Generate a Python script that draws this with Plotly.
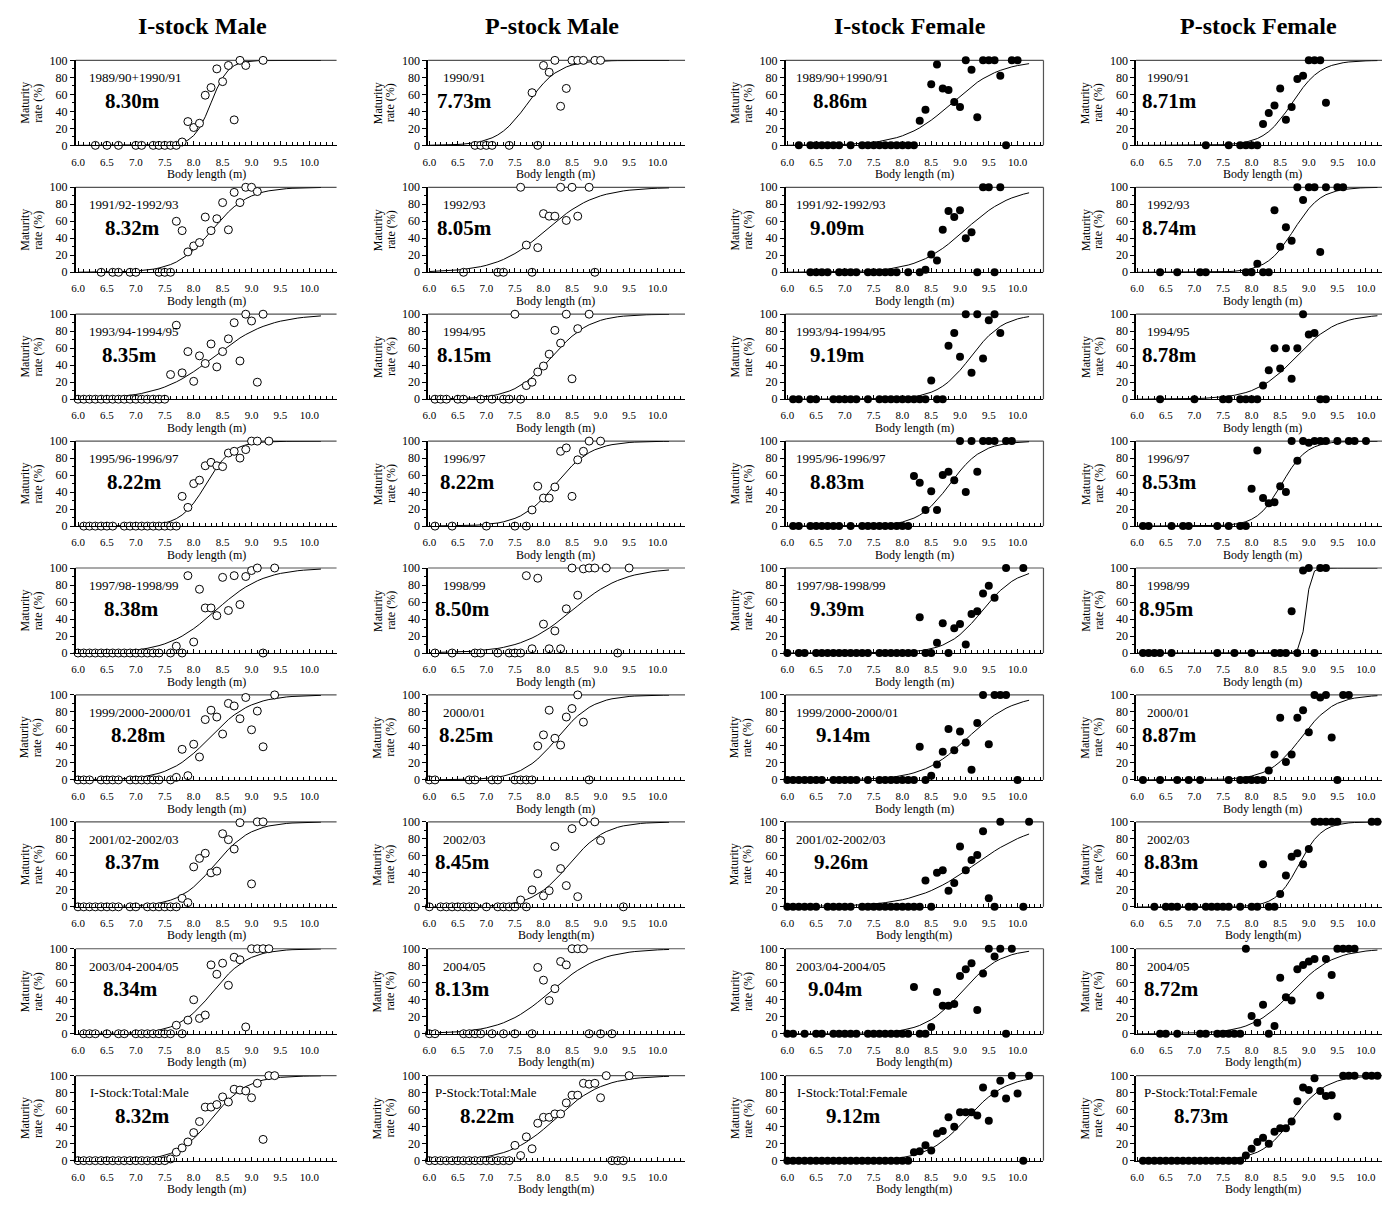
import numpy as np
import plotly.graph_objects as go

W, H = 1382, 1206
FONT = "Liberation Serif, Times New Roman, serif"

COLUMN_TITLES = ["I-stock Male", "P-stock Male", "I-stock Female", "P-stock Female"]

# ---------------- I-stock Male ----------------
IM_LABELS = ["1989/90+1990/91", "1991/92-1992/93", "1993/94-1994/95", "1995/96-1996/97",
             "1997/98-1998/99", "1999/2000-2000/01", "2001/02-2002/03", "2003/04-2004/05",
             "I-Stock:Total:Male"]
IM_L50 = [8.30, 8.32, 8.35, 8.22, 8.38, 8.28, 8.37, 8.34, 8.32]
IM_SLOPE = [6.8, 3.2, 2.1, 4.5, 2.4, 2.8, 3.2, 3.3, 3.3]
IM_X = [
    [6.3, 6.5, 6.7, 7.0, 7.1, 7.3, 7.4, 7.5, 7.6, 7.7, 7.8, 7.9, 8.0, 8.1, 8.2, 8.3, 8.4, 8.5, 8.6, 8.7, 8.8, 8.9, 9.2],
    [6.4, 6.6, 6.7, 6.9, 7.0, 7.4, 7.5, 7.6, 7.7, 7.8, 7.9, 8.0, 8.1, 8.2, 8.3, 8.4, 8.5, 8.6, 8.7, 8.8, 8.9, 9.0, 9.1],
    [6.0, 6.1, 6.2, 6.3, 6.4, 6.5, 6.6, 6.7, 6.8, 6.9, 7.0, 7.1, 7.2, 7.3, 7.4, 7.5, 7.6, 7.7, 7.8, 7.9, 8.0, 8.1, 8.2,
     8.3, 8.4, 8.5, 8.6, 8.7, 8.8, 8.9, 9.0, 9.1, 9.2],
    [6.1, 6.2, 6.3, 6.4, 6.5, 6.6, 6.8, 6.9, 7.0, 7.1, 7.2, 7.3, 7.4, 7.5, 7.6, 7.7, 7.8, 7.9, 8.0, 8.1, 8.2, 8.3, 8.4,
     8.5, 8.6, 8.7, 8.8, 8.9, 9.0, 9.1, 9.3],
    [6.0, 6.1, 6.2, 6.3, 6.4, 6.5, 6.6, 6.7, 6.8, 6.9, 7.0, 7.1, 7.2, 7.3, 7.4, 7.6, 7.7, 7.8, 7.9, 8.0, 8.1, 8.2, 8.3,
     8.4, 8.5, 8.6, 8.7, 8.8, 8.9, 9.0, 9.1, 9.2, 9.4],
    [6.0, 6.1, 6.2, 6.4, 6.5, 6.6, 6.7, 6.9, 7.0, 7.1, 7.2, 7.3, 7.4, 7.6, 7.7, 7.8, 7.9, 8.0, 8.1, 8.2, 8.3, 8.4, 8.5,
     8.6, 8.7, 8.8, 8.9, 9.0, 9.1, 9.2, 9.4],
    [6.0, 6.1, 6.2, 6.3, 6.4, 6.5, 6.6, 6.7, 6.9, 7.0, 7.2, 7.3, 7.4, 7.5, 7.6, 7.7, 7.8, 7.9, 8.0, 8.1, 8.2, 8.3, 8.4,
     8.5, 8.6, 8.7, 8.8, 9.0, 9.1, 9.2],
    [6.1, 6.2, 6.3, 6.5, 6.7, 6.8, 7.0, 7.1, 7.2, 7.3, 7.4, 7.5, 7.6, 7.7, 7.8, 7.9, 8.0, 8.1, 8.2, 8.3, 8.4, 8.5, 8.6,
     8.7, 8.8, 8.9, 9.0, 9.1, 9.2, 9.3],
    [6.0, 6.1, 6.2, 6.3, 6.4, 6.5, 6.6, 6.7, 6.8, 6.9, 7.0, 7.1, 7.2, 7.3, 7.4, 7.5, 7.6, 7.7, 7.8, 7.9, 8.0, 8.1, 8.2,
     8.3, 8.4, 8.5, 8.6, 8.7, 8.8, 8.9, 9.0, 9.1, 9.2, 9.3, 9.4],
]
IM_Y = [
    [0, 0, 0, 0, 0, 0, 0, 0, 0, 0, 4, 28, 21, 26, 59, 68, 90, 75, 94, 30, 100, 94, 100],
    [0, 0, 0, 0, 0, 0, 0, 0, 60, 49, 24, 31, 35, 65, 49, 63, 82, 50, 94, 82, 100, 100, 95],
    [0, 0, 0, 0, 0, 0, 0, 0, 0, 0, 0, 0, 0, 0, 0, 0, 29, 87, 31, 56, 21, 51, 42, 65, 38, 56, 71, 90, 45, 100, 92, 20, 100],
    [0, 0, 0, 0, 0, 0, 0, 0, 0, 0, 0, 0, 0, 0, 0, 0, 35, 22, 50, 54, 71, 75, 71, 70, 86, 88, 80, 90, 100, 100, 100],
    [0, 0, 0, 0, 0, 0, 0, 0, 0, 0, 0, 0, 0, 0, 0, 0, 8, 0, 91, 13, 75, 53, 53, 44, 89, 50, 91, 57, 90, 97, 100, 0, 100],
    [0, 0, 0, 0, 0, 0, 0, 0, 0, 0, 0, 0, 0, 0, 3, 36, 5, 42, 27, 71, 82, 74, 54, 90, 87, 72, 97, 59, 81, 39, 100],
    [0, 0, 0, 0, 0, 0, 0, 0, 0, 0, 0, 0, 0, 0, 0, 0, 10, 5, 47, 57, 63, 40, 42, 86, 79, 68, 99, 27, 100, 100],
    [0, 0, 0, 0, 0, 0, 0, 0, 0, 0, 0, 0, 0, 10, 0, 16, 40, 18, 22, 81, 70, 83, 57, 90, 87, 8, 100, 100, 100, 100],
    [0, 0, 0, 0, 0, 0, 0, 0, 0, 0, 0, 0, 0, 0, 0, 0, 2, 10, 15, 22, 33, 46, 63, 63, 66, 75, 69, 84, 83, 82, 74, 91, 25,
     100, 100],
]

# ---------------- P-stock Male ----------------
PM_LABELS = ["1990/91", "1992/93", "1994/95", "1996/97", "1998/99", "2000/01", "2002/03", "2004/05",
             "P-Stock:Total:Male"]
PM_L50 = [7.73, 8.05, 8.15, 8.22, 8.50, 8.25, 8.45, 8.13, 8.22]
PM_SLOPE = [3.7, 2.3, 3.0, 3.2, 2.2, 3.2, 3.15, 2.3, 2.45]
PM_X = [
    [6.8, 6.9, 7.0, 7.1, 7.4, 7.8, 7.9, 8.0, 8.1, 8.2, 8.3, 8.4, 8.5, 8.6, 8.7, 8.9, 9.0],
    [6.6, 7.2, 7.3, 7.6, 7.7, 7.8, 7.9, 8.0, 8.1, 8.2, 8.3, 8.4, 8.5, 8.6, 8.8, 8.9],
    [6.1, 6.2, 6.3, 6.5, 6.6, 6.9, 7.1, 7.3, 7.4, 7.5, 7.6, 7.7, 7.8, 7.9, 8.0, 8.1, 8.2, 8.3, 8.4, 8.5, 8.6, 8.8],
    [6.1, 6.4, 7.0, 7.5, 7.7, 7.8, 7.9, 8.0, 8.1, 8.2, 8.3, 8.4, 8.5, 8.6, 8.7, 8.8, 9.0],
    [6.1, 6.4, 6.8, 6.9, 7.2, 7.4, 7.5, 7.6, 7.7, 7.8, 7.9, 8.0, 8.1, 8.2, 8.3, 8.4, 8.5, 8.6, 8.7, 8.8, 8.9, 9.1,
     9.3, 9.5],
    [6.0, 6.1, 6.7, 6.8, 7.1, 7.2, 7.5, 7.6, 7.7, 7.8, 7.9, 8.0, 8.1, 8.2, 8.3, 8.4, 8.5, 8.6, 8.7, 8.8],
    [6.0, 6.2, 6.3, 6.4, 6.5, 6.6, 6.7, 6.8, 7.0, 7.2, 7.3, 7.4, 7.5, 7.6, 7.7, 7.8, 7.9, 8.0, 8.1, 8.2, 8.3, 8.4,
     8.5, 8.6, 8.7, 8.9, 9.0, 9.4],
    [6.0, 6.1, 6.6, 6.7, 6.8, 6.9, 7.1, 7.3, 7.5, 7.8, 7.9, 8.0, 8.1, 8.2, 8.3, 8.4, 8.5, 8.6, 8.7, 8.8, 9.0, 9.2],
    [6.0, 6.1, 6.2, 6.3, 6.4, 6.5, 6.6, 6.7, 6.8, 6.9, 7.0, 7.1, 7.2, 7.3, 7.4, 7.5, 7.6, 7.7, 7.8, 7.9, 8.0, 8.1,
     8.2, 8.3, 8.4, 8.5, 8.6, 8.7, 8.8, 8.9, 9.0, 9.1, 9.2, 9.3, 9.4, 9.5],
]
PM_Y = [
    [0, 0, 0, 0, 0, 62, 0, 94, 86, 100, 46, 67, 100, 100, 100, 100, 100],
    [0, 0, 0, 100, 32, 0, 29, 69, 66, 66, 100, 61, 100, 66, 100, 0],
    [0, 0, 0, 0, 0, 0, 0, 0, 0, 100, 0, 16, 20, 32, 39, 53, 81, 66, 100, 24, 83, 100],
    [0, 0, 0, 0, 0, 19, 47, 33, 33, 46, 88, 92, 35, 78, 88, 100, 100],
    [0, 0, 0, 0, 0, 0, 0, 0, 91, 5, 88, 34, 5, 26, 5, 52, 100, 68, 99, 100, 100, 100, 0, 100],
    [0, 0, 0, 0, 0, 0, 0, 0, 0, 0, 40, 53, 82, 49, 41, 74, 84, 100, 68, 0],
    [0, 0, 0, 0, 0, 0, 0, 0, 0, 0, 0, 0, 0, 8, 0, 20, 39, 13, 19, 71, 45, 25, 92, 12, 100, 100, 78, 0],
    [0, 0, 0, 0, 0, 0, 0, 0, 0, 0, 78, 63, 39, 53, 85, 81, 100, 100, 100, 0, 0, 0],
    [0, 0, 0, 0, 0, 0, 0, 0, 0, 0, 0, 0, 0, 0, 0, 18, 6, 28, 14, 44, 51, 51, 55, 55, 68, 77, 77, 91, 90, 91, 74,
     100, 0, 0, 0, 100],
]

# ---------------- I-stock Female ----------------
IF_LABELS = ["1989/90+1990/91", "1991/92-1992/93", "1993/94-1994/95", "1995/96-1996/97",
             "1997/98-1998/99", "1999/2000-2000/01", "2001/02-2002/03", "2003/04-2004/05",
             "I-Stock:Total:Female"]
IF_L50 = [8.86, 9.09, 9.19, 8.83, 9.39, 9.14, 9.26, 9.04, 9.12]
IF_SLOPE = [2.4, 2.4, 3.5, 3.6, 3.3, 2.55, 1.9, 3.0, 2.9]
IF_X = [
    [6.2, 6.4, 6.5, 6.6, 6.7, 6.8, 6.9, 7.1, 7.3, 7.4, 7.5, 7.6, 7.7, 7.8, 7.9, 8.0, 8.1, 8.2, 8.3, 8.4, 8.5, 8.6,
     8.7, 8.8, 8.9, 9.0, 9.1, 9.2, 9.3, 9.4, 9.5, 9.6, 9.7, 9.8, 9.9, 10.0],
    [6.4, 6.5, 6.6, 6.7, 6.9, 7.0, 7.1, 7.2, 7.4, 7.5, 7.6, 7.7, 7.8, 7.9, 8.1, 8.3, 8.4, 8.5, 8.6, 8.7, 8.8, 8.9,
     9.0, 9.1, 9.2, 9.3, 9.4, 9.5, 9.6, 9.7],
    [6.1, 6.2, 6.4, 6.5, 6.8, 6.9, 7.0, 7.1, 7.2, 7.4, 7.6, 7.7, 7.8, 7.9, 8.0, 8.1, 8.2, 8.3, 8.4, 8.5, 8.6, 8.7,
     8.8, 8.9, 9.0, 9.1, 9.2, 9.3, 9.4, 9.5, 9.6, 9.7],
    [6.1, 6.2, 6.4, 6.5, 6.6, 6.7, 6.8, 6.9, 7.1, 7.3, 7.4, 7.5, 7.6, 7.7, 7.8, 7.9, 8.0, 8.1, 8.2, 8.3, 8.4, 8.5,
     8.6, 8.7, 8.8, 8.9, 9.0, 9.1, 9.2, 9.3, 9.4, 9.5, 9.6, 9.8, 9.9],
    [6.0, 6.2, 6.3, 6.5, 6.6, 6.7, 6.8, 6.9, 7.0, 7.1, 7.2, 7.3, 7.4, 7.6, 7.7, 7.8, 7.9, 8.0, 8.1, 8.2, 8.3, 8.4,
     8.5, 8.6, 8.7, 8.8, 8.9, 9.0, 9.1, 9.2, 9.3, 9.4, 9.5, 9.6, 9.8, 10.1],
    [6.0, 6.1, 6.2, 6.3, 6.4, 6.5, 6.6, 6.8, 6.9, 7.0, 7.1, 7.2, 7.4, 7.6, 7.7, 7.8, 7.9, 8.0, 8.1, 8.2, 8.3, 8.4,
     8.5, 8.6, 8.7, 8.8, 8.9, 9.0, 9.1, 9.2, 9.3, 9.4, 9.5, 9.6, 9.7, 9.8, 10.0],
    [6.0, 6.1, 6.2, 6.3, 6.4, 6.5, 6.7, 6.8, 6.9, 7.0, 7.1, 7.3, 7.4, 7.5, 7.6, 7.7, 7.8, 7.9, 8.0, 8.1, 8.2, 8.3,
     8.4, 8.5, 8.6, 8.7, 8.8, 8.9, 9.0, 9.1, 9.2, 9.3, 9.4, 9.5, 9.6, 9.7, 10.1, 10.2],
    [6.0, 6.1, 6.3, 6.5, 6.6, 6.8, 6.9, 7.0, 7.1, 7.2, 7.4, 7.5, 7.6, 7.7, 7.8, 7.9, 8.0, 8.1, 8.2, 8.3, 8.4, 8.5,
     8.6, 8.7, 8.8, 8.9, 9.0, 9.1, 9.2, 9.3, 9.4, 9.5, 9.6, 9.7, 9.8, 9.9],
    [6.0, 6.1, 6.2, 6.3, 6.4, 6.5, 6.6, 6.7, 6.8, 6.9, 7.0, 7.1, 7.2, 7.3, 7.4, 7.5, 7.6, 7.7, 7.8, 7.9, 8.0, 8.1,
     8.2, 8.3, 8.4, 8.5, 8.6, 8.7, 8.8, 8.9, 9.0, 9.1, 9.2, 9.3, 9.4, 9.5, 9.6, 9.7, 9.8, 9.9, 10.0, 10.1, 10.2],
]
IF_Y = [
    [0, 0, 0, 0, 0, 0, 0, 0, 0, 0, 0, 0, 0, 0, 0, 0, 0, 0, 29, 42, 72, 95, 67, 65, 51, 45, 100, 89, 33, 100, 100,
     100, 82, 0, 100, 100],
    [0, 0, 0, 0, 0, 0, 0, 0, 0, 0, 0, 0, 0, 0, 0, 0, 3, 21, 14, 50, 72, 65, 73, 40, 47, 0, 100, 100, 0, 100],
    [0, 0, 0, 0, 0, 0, 0, 0, 0, 0, 0, 0, 0, 0, 0, 0, 0, 0, 0, 22, 0, 0, 63, 78, 50, 100, 31, 100, 48, 93, 100, 78],
    [0, 0, 0, 0, 0, 0, 0, 0, 0, 0, 0, 0, 0, 0, 0, 0, 0, 0, 59, 51, 19, 41, 19, 60, 64, 54, 100, 40, 100, 64, 100,
     100, 100, 100, 100],
    [0, 0, 0, 0, 0, 0, 0, 0, 0, 0, 0, 0, 0, 0, 0, 0, 0, 0, 0, 0, 42, 0, 0, 12, 35, 0, 29, 34, 10, 46, 49, 70, 79,
     65, 100, 100],
    [0, 0, 0, 0, 0, 0, 0, 0, 0, 0, 0, 0, 0, 0, 0, 0, 0, 0, 0, 0, 39, 0, 5, 18, 33, 60, 35, 57, 44, 12, 67, 100, 42,
     100, 100, 100, 0],
    [0, 0, 0, 0, 0, 0, 0, 0, 0, 0, 0, 0, 0, 0, 0, 0, 0, 0, 0, 0, 0, 0, 31, 0, 40, 43, 19, 28, 71, 43, 55, 61, 89,
     10, 0, 100, 0, 100],
    [0, 0, 0, 0, 0, 0, 0, 0, 0, 0, 0, 0, 0, 0, 0, 0, 0, 0, 55, 0, 0, 8, 49, 33, 33, 35, 68, 76, 83, 28, 71, 100, 91,
     100, 0, 100],
    [0, 0, 0, 0, 0, 0, 0, 0, 0, 0, 0, 0, 0, 0, 0, 0, 0, 0, 0, 0, 0, 0, 10, 11, 18, 12, 32, 35, 51, 40, 57, 57, 57,
     53, 86, 47, 79, 94, 73, 100, 79, 0, 100],
]

# ---------------- P-stock Female ----------------
PF_LABELS = ["1990/91", "1992/93", "1994/95", "1996/97", "1998/99", "2000/01", "2002/03", "2004/05",
             "P-Stock:Total:Female"]
PF_L50 = [8.71, 8.74, 8.78, 8.53, 8.95, 8.87, 8.83, 8.72, 8.73]
PF_SLOPE = [4.0, 4.2, 2.8, 4.6, 22.0, 3.5, 5.0, 2.8, 3.5]
PF_X = [
    [7.2, 7.6, 7.8, 7.9, 8.0, 8.1, 8.2, 8.3, 8.4, 8.5, 8.6, 8.7, 8.8, 8.9, 9.0, 9.1, 9.2, 9.3],
    [6.4, 6.7, 7.1, 7.2, 7.9, 8.0, 8.1, 8.2, 8.3, 8.4, 8.5, 8.6, 8.7, 8.8, 8.9, 9.0, 9.1, 9.2, 9.3, 9.5, 9.6],
    [6.4, 7.0, 7.5, 7.6, 7.8, 7.9, 8.0, 8.1, 8.2, 8.3, 8.4, 8.5, 8.6, 8.7, 8.8, 8.9, 9.0, 9.1, 9.2, 9.3],
    [6.1, 6.2, 6.6, 6.8, 6.9, 7.4, 7.6, 7.8, 7.9, 8.0, 8.1, 8.2, 8.3, 8.4, 8.5, 8.6, 8.7, 8.8, 8.9, 9.0, 9.1, 9.2,
     9.3, 9.5, 9.7, 9.8, 10.0],
    [6.1, 6.2, 6.3, 6.4, 6.6, 7.4, 7.7, 8.0, 8.4, 8.5, 8.6, 8.7, 8.8, 8.9, 9.0, 9.1, 9.2, 9.3],
    [6.1, 6.4, 6.7, 6.9, 7.1, 7.6, 7.8, 7.9, 8.0, 8.1, 8.2, 8.3, 8.4, 8.5, 8.6, 8.7, 8.8, 8.9, 9.0, 9.1, 9.2, 9.3,
     9.4, 9.5, 9.6, 9.7],
    [6.3, 6.5, 6.6, 6.7, 6.9, 7.0, 7.2, 7.3, 7.4, 7.5, 7.6, 7.8, 8.0, 8.1, 8.2, 8.3, 8.4, 8.5, 8.6, 8.7, 8.8, 8.9,
     9.0, 9.1, 9.2, 9.3, 9.4, 9.5, 10.1, 10.2],
    [6.4, 6.5, 6.7, 7.1, 7.2, 7.4, 7.5, 7.6, 7.7, 7.8, 7.9, 8.0, 8.1, 8.2, 8.3, 8.4, 8.5, 8.6, 8.7, 8.8, 8.9, 9.0,
     9.1, 9.2, 9.3, 9.4, 9.5, 9.6, 9.7, 9.8],
    [6.1, 6.2, 6.3, 6.4, 6.5, 6.6, 6.7, 6.8, 6.9, 7.0, 7.1, 7.2, 7.3, 7.4, 7.5, 7.6, 7.7, 7.8, 7.9, 8.0, 8.1, 8.2,
     8.3, 8.4, 8.5, 8.6, 8.7, 8.8, 8.9, 9.0, 9.1, 9.2, 9.3, 9.4, 9.5, 9.6, 9.7, 9.8, 10.0, 10.1, 10.2],
]
PF_Y = [
    [0, 0, 0, 0, 0, 0, 25, 38, 47, 67, 30, 45, 78, 82, 100, 100, 100, 50],
    [0, 0, 0, 0, 0, 0, 10, 0, 0, 73, 30, 53, 37, 100, 85, 100, 100, 24, 100, 100, 100],
    [0, 0, 0, 0, 0, 0, 0, 0, 16, 34, 60, 36, 60, 24, 60, 100, 76, 78, 0, 0],
    [0, 0, 0, 0, 0, 0, 0, 0, 0, 44, 89, 33, 27, 28, 47, 40, 100, 77, 100, 98, 100, 100, 100, 100, 100, 100, 100],
    [0, 0, 0, 0, 0, 0, 0, 0, 0, 0, 0, 49, 0, 97, 100, 0, 100, 100],
    [0, 0, 0, 0, 0, 0, 0, 0, 0, 0, 0, 11, 30, 73, 21, 30, 73, 82, 56, 100, 97, 100, 50, 0, 100, 100],
    [0, 0, 0, 0, 0, 0, 0, 0, 0, 0, 0, 0, 0, 0, 50, 0, 0, 15, 37, 59, 63, 50, 68, 100, 100, 100, 100, 100, 100, 100],
    [0, 0, 0, 0, 0, 0, 0, 0, 0, 0, 100, 21, 13, 34, 0, 9, 66, 43, 39, 76, 81, 85, 88, 45, 88, 69, 100, 100, 100, 100],
    [0, 0, 0, 0, 0, 0, 0, 0, 0, 0, 0, 0, 0, 0, 0, 0, 0, 0, 6, 14, 22, 27, 20, 34, 38, 38, 46, 70, 86, 83, 97, 82,
     76, 77, 52, 100, 100, 100, 100, 100, 100],
]

Y_TICKS = [0, 20, 40, 60, 80, 100]
X_TICKS = [6.0, 6.5, 7.0, 7.5, 8.0, 8.5, 9.0, 9.5, 10.0]
CURVE_START, CURVE_END = 6.0, 10.2

# ---------------- layout geometry (pixels) ----------------
COL_X0 = [70, 424, 783, 1135]
COL_X1 = [332, 682, 1042, 1382]
COL_RANGE = [[5.96, 10.47], [5.98, 10.48], [5.97, 10.45], [5.98, 10.28]]
COL_CENTER = [201, 552, 912, 1262]
ROW_TOP0, ROW_STEP, PLOT_H = 54, 128.4, 86

PERIOD_POS = [("left", 81), ("center", 461), ("left", 791), ("center", 1168)]
TOTAL_POS = [("left", 82), ("left", 429), ("left", 792), ("left", 1141)]
VALUE_X = [
    [127, 127, 124, 129, 126, 133, 127, 125, 137],
    [460, 460, 460, 464, 458, 463, 458, 458, 484],
    [838, 835, 835, 835, 835, 841, 839, 833, 851],
    [1169, 1169, 1169, 1169, 1166, 1169, 1171, 1171, 1201],
]

COLUMNS = [
    dict(labels=IM_LABELS, l50=IM_L50, slope=IM_SLOPE, xs=IM_X, ys=IM_Y, filled=False),
    dict(labels=PM_LABELS, l50=PM_L50, slope=PM_SLOPE, xs=PM_X, ys=PM_Y, filled=False),
    dict(labels=IF_LABELS, l50=IF_L50, slope=IF_SLOPE, xs=IF_X, ys=IF_Y, filled=True),
    dict(labels=PF_LABELS, l50=PF_L50, slope=PF_SLOPE, xs=PF_X, ys=PF_Y, filled=True),
]


def px(xp):
    return xp / W


def py(yp):
    return 1 - yp / H


fig = go.Figure()
annotations = []
shapes = []
layout_axes = {}
curve_x = np.round(np.arange(CURVE_START, CURVE_END + 1e-9, 0.1), 1)

idx = 0
for c, col in enumerate(COLUMNS):
    for r in range(9):
        idx += 1
        xa = "x" if idx == 1 else f"x{idx}"
        ya = "y" if idx == 1 else f"y{idx}"
        top = ROW_TOP0 + ROW_STEP * r
        bot = top + PLOT_H
        x0, x1 = COL_X0[c], COL_X1[c]

        layout_axes["xaxis" if idx == 1 else f"xaxis{idx}"] = dict(
            domain=[px(x0), px(x1)], anchor=ya, range=COL_RANGE[c],
            showgrid=False, zeroline=False, showline=True, linecolor="black", linewidth=1,
            ticks="inside", ticklen=4, tickcolor="black", tickwidth=1,
            tickvals=X_TICKS, ticktext=[f"{v:.1f}" for v in X_TICKS],
            tickfont=dict(family=FONT, size=11, color="black"), ticklabelstandoff=6,
            minor=dict(dtick=0.1, tick0=6.0, ticks="inside", ticklen=3, tickcolor="black", tickwidth=1),
            fixedrange=True,
        )
        layout_axes["yaxis" if idx == 1 else f"yaxis{idx}"] = dict(
            domain=[py(bot), py(top)], anchor=xa, range=[0, 100],
            showgrid=False, zeroline=False, showline=True, linecolor="black", linewidth=1.5,
            ticks="outside", ticklen=4, tickcolor="black", tickwidth=1,
            tickvals=Y_TICKS, tickfont=dict(family=FONT, size=12, color="black"),
            minor=dict(dtick=10, ticks="outside", ticklen=2, tickcolor="black"),
            fixedrange=True,
        )

        l50, k = col["l50"][r], col["slope"][r]
        curve_y = 100.0 / (1.0 + np.exp(-k * (curve_x - l50)))
        fig.add_trace(go.Scatter(x=curve_x, y=curve_y, mode="lines", xaxis=xa, yaxis=ya,
                                 line=dict(color="black", width=1), showlegend=False,
                                 hoverinfo="skip", cliponaxis=False))
        if col["filled"]:
            marker = dict(size=8, color="black", line=dict(color="black", width=0))
        else:
            marker = dict(size=8, color="white", line=dict(color="black", width=1))
        fig.add_trace(go.Scatter(x=col["xs"][r], y=col["ys"][r], mode="markers", xaxis=xa, yaxis=ya,
                                 marker=marker, showlegend=False, cliponaxis=False))

        # top border (and right border for the third column)
        shapes.append(dict(type="line", xref="paper", yref="paper", x0=px(x0), x1=px(x1),
                           y0=py(top), y1=py(top), line=dict(color="#555555", width=1.2), layer="below"))
        if c == 2:
            shapes.append(dict(type="line", xref="paper", yref="paper", x0=px(x1), x1=px(x1),
                               y0=py(top), y1=py(bot), line=dict(color="#555555", width=1.2), layer="below"))

        # period label
        align, xpos = (TOTAL_POS[c] if r == 8 else PERIOD_POS[c])
        annotations.append(dict(text=col["labels"][r], xref="paper", yref="paper",
                                x=px(xpos), y=py(top + 17.5), xanchor=align, yanchor="middle",
                                showarrow=False, font=dict(family=FONT, size=13, color="black")))
        # L50 value
        annotations.append(dict(text=f"<b>{l50:.2f}m</b>", xref="paper", yref="paper",
                                x=px(VALUE_X[c][r]), y=py(top + 41), xanchor="center", yanchor="middle",
                                showarrow=False, font=dict(family=FONT, size=21, color="black")))
        # y title (two lines)
        annotations.append(dict(text="Maturity", xref="paper", yref="paper", x=px(x0 - 51),
                                y=py(top + PLOT_H / 2), xanchor="center", yanchor="middle",
                                textangle=-90, showarrow=False,
                                font=dict(family=FONT, size=12, color="black")))
        annotations.append(dict(text="rate (%)", xref="paper", yref="paper", x=px(x0 - 38),
                                y=py(top + PLOT_H / 2), xanchor="center", yanchor="middle",
                                textangle=-90, showarrow=False,
                                font=dict(family=FONT, size=12, color="black")))
        # x title
        xt = "Body length(m)" if (c > 0 and r >= 6) else "Body length (m)"
        annotations.append(dict(text=xt, xref="paper", yref="paper", x=px(COL_CENTER[c]),
                                y=py(bot + 29), xanchor="center", yanchor="middle",
                                showarrow=False, font=dict(family=FONT, size=12, color="black")))

for c, t in enumerate(COLUMN_TITLES):
    annotations.append(dict(text=f"<b>{t}</b>", xref="paper", yref="paper", x=px(COL_CENTER[c] - 4),
                            y=py(19), xanchor="center", yanchor="middle", showarrow=False,
                            font=dict(family=FONT, size=24, color="black")))

fig.update_layout(
    width=W, height=H, margin=dict(l=0, r=0, t=0, b=0),
    paper_bgcolor="white", plot_bgcolor="white",
    font=dict(family=FONT, color="black"),
    annotations=annotations, shapes=shapes, showlegend=False,
    **layout_axes,
)

fig.write_html("out.html", config={"displayModeBar": False},
               post_script="document.body.style.margin='0';document.body.style.overflow='hidden';")
